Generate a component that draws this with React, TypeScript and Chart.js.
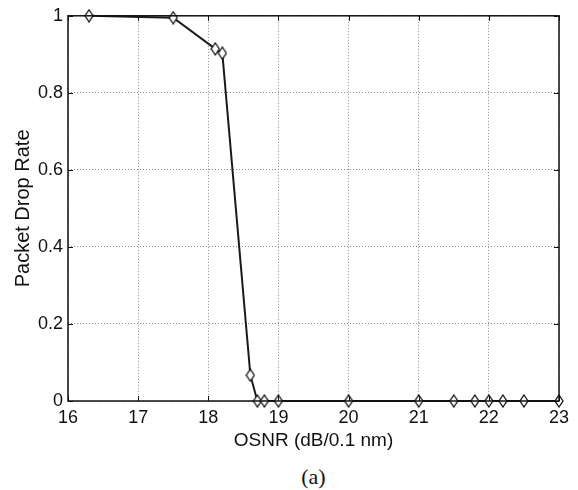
import React, { useEffect, useRef } from "react";
import { Chart, registerables } from "chart.js";

Chart.register(...registerables);

const osnr = [16.3, 17.5, 18.1, 18.2, 18.6, 18.7, 18.8, 19.0, 20.0, 21.0, 21.5, 21.8, 22.0, 22.2, 22.5, 23.0];
const dropRate = [1.0, 0.995, 0.914, 0.903, 0.067, 0, 0, 0, 0, 0, 0, 0, 0, 0, 0, 0];
const xTicks = [16, 17, 18, 19, 20, 21, 22, 23];
const yTicks = [0, 0.2, 0.4, 0.6, 0.8, 1];
const xTitle = "OSNR (dB/0.1 nm)";
const yTitle = "Packet Drop Rate";
const caption = "(a)";

const FONT = "'Liberation Sans', Arial, sans-serif";

function makeDiamond(): HTMLCanvasElement {
  const w = 10;
  const h = 14;
  const c = document.createElement("canvas");
  c.width = w;
  c.height = h;
  const g = c.getContext("2d")!;
  g.beginPath();
  g.moveTo(w / 2, 1);
  g.lineTo(w - 1, h / 2);
  g.lineTo(w / 2, h - 1);
  g.lineTo(1, h / 2);
  g.closePath();
  g.fillStyle = "#fff";
  g.fill();
  g.strokeStyle = "#111";
  g.lineWidth = 1.3;
  g.stroke();
  return c;
}

const boxPlugin = {
  id: "matlabBox",
  afterDraw(chart: any) {
    const { ctx, chartArea: a, scales } = chart;
    const x = scales.x;
    const y = scales.y;
    ctx.save();
    ctx.strokeStyle = "#111";
    ctx.lineWidth = 1.5;
    ctx.strokeRect(a.left, a.top, a.right - a.left, a.bottom - a.top);
    ctx.lineWidth = 1;
    const t = 5;
    ctx.beginPath();
    xTicks.forEach((v) => {
      const px = Math.round(x.getPixelForValue(v)) + 0.5;
      ctx.moveTo(px, a.bottom);
      ctx.lineTo(px, a.bottom - t);
      ctx.moveTo(px, a.top);
      ctx.lineTo(px, a.top + t);
    });
    yTicks.forEach((v) => {
      const py = Math.round(y.getPixelForValue(v)) + 0.5;
      ctx.moveTo(a.left, py);
      ctx.lineTo(a.left + t, py);
      ctx.moveTo(a.right, py);
      ctx.lineTo(a.right - t, py);
    });
    ctx.stroke();
    ctx.restore();
  },
};

export default function App() {
  const ref = useRef<HTMLCanvasElement>(null);
  useEffect(() => {
    if (!ref.current) return;
    const diamond = makeDiamond();
    const chart = new Chart(ref.current, {
      type: "line",
      data: {
        datasets: [
          {
            data: osnr.map((v, i) => ({ x: v, y: dropRate[i] })),
            borderColor: "#1a1a1a",
            borderWidth: 2,
            pointStyle: diamond,
            pointRadius: 5,
            tension: 0,
            clip: false,
          },
        ],
      },
      options: {
        animation: false,
        responsive: false,
        maintainAspectRatio: false,
        layout: { padding: { top: 15, right: 19, left: 0, bottom: 0 } },
        plugins: { legend: { display: false }, tooltip: { enabled: false } },
        scales: {
          x: {
            type: "linear",
            min: 16,
            max: 23,
            afterBuildTicks: (s: any) => {
              s.ticks = xTicks.map((v) => ({ value: v }));
            },
            afterFit: (s: any) => {
              s.height = 54;
            },
            ticks: { color: "#111", font: { family: FONT, size: 18 }, padding: 6 },
            grid: {
              color: "#8a8a8a",
              lineWidth: 1,
              drawTicks: false,
            },
            border: { display: false, dash: [1, 2] },
            title: {
              display: true,
              text: xTitle,
              color: "#111",
              font: { family: FONT, size: 19 },
              padding: { top: 0, bottom: 3 },
            },
          },
          y: {
            type: "linear",
            min: 0,
            max: 1,
            afterBuildTicks: (s: any) => {
              s.ticks = yTicks.map((v) => ({ value: v }));
            },
            afterFit: (s: any) => {
              s.width = 68;
            },
            ticks: {
              color: "#111",
              font: { family: FONT, size: 18 },
              padding: 5,
              callback: (v: any) => String(Math.round(Number(v) * 10) / 10),
            },
            grid: {
              color: "#8a8a8a",
              lineWidth: 1,
              drawTicks: false,
            },
            border: { display: false, dash: [1, 2] },
            title: {
              display: true,
              text: yTitle,
              color: "#111",
              font: { family: FONT, size: 20 },
              padding: { top: 11, bottom: 0 },
            },
          },
        },
      },
      plugins: [boxPlugin],
    } as any);
    return () => chart.destroy();
  }, []);

  return (
    <div style={{ position: "fixed", left: 0, top: 0, width: 578, height: 490, background: "#fff" }}>
      <canvas ref={ref} width={578} height={455} style={{ display: "block" }} />
      <div
        style={{
          position: "absolute",
          left: 68,
          width: 491,
          top: 466,
          lineHeight: "22px",
          textAlign: "center",
          fontFamily: "'Liberation Serif', 'Times New Roman', serif",
          fontSize: 22,
          color: "#111",
        }}
      >
        {caption}
      </div>
    </div>
  );
}
